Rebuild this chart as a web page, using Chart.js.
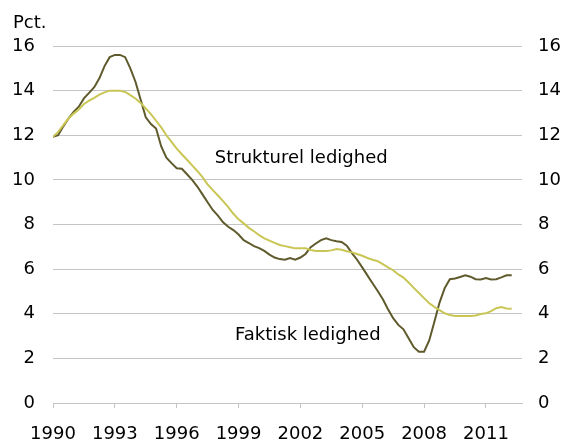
<!DOCTYPE html>
<html>
<head>
<meta charset="utf-8">
<script src="https://cdn.jsdelivr.net/npm/chart.js@4.4.1/dist/chart.umd.min.js"></script>
<style>
    html, body { margin: 0; padding: 0; background: #ffffff; }
    #wrap { width: 563px; height: 442px; position: relative; }
</style>
</head>
<body>
<div id="wrap"><canvas id="myChart"></canvas></div>
<script>
// quarterly series, first point 1990 Q1
const startYear = 1990;
const axisEndYear = 2012.75;
const yearTicks = [1990, 1993, 1996, 1999, 2002, 2005, 2008, 2011];
const valueTicks = [0, 2, 4, 6, 8, 10, 12, 14, 16];

const faktiskLedighed = [
    11.93, 12.0, 12.4, 12.75, 13.05, 13.28, 13.65, 13.9, 14.15, 14.55,
    15.1, 15.5, 15.6, 15.6, 15.5, 15.0, 14.4, 13.6, 12.8, 12.5,
    12.3, 11.5, 11.0, 10.75, 10.52, 10.5, 10.25, 10.0, 9.7, 9.35,
    9.0, 8.65, 8.4, 8.1, 7.9, 7.75, 7.55, 7.3, 7.17, 7.03,
    6.94, 6.82, 6.65, 6.52, 6.45, 6.42, 6.5, 6.42, 6.52, 6.68,
    6.98, 7.15, 7.3, 7.38, 7.3, 7.25, 7.22, 7.05, 6.72, 6.42,
    6.08, 5.72, 5.37, 5.02, 4.65, 4.2, 3.8, 3.5, 3.3, 2.9,
    2.5, 2.3, 2.3, 2.8, 3.64, 4.5, 5.15, 5.55, 5.58, 5.65,
    5.72, 5.66, 5.55, 5.54, 5.6, 5.54, 5.55, 5.63, 5.72, 5.72
];

const strukturelLedighed = [
    11.93, 12.15, 12.45, 12.75, 12.97, 13.15, 13.4, 13.55, 13.68, 13.82,
    13.92, 14.0, 14.0, 14.0, 13.94, 13.8, 13.65, 13.45, 13.2, 12.95,
    12.65, 12.35, 12.0, 11.7, 11.4, 11.15, 10.9, 10.65, 10.4, 10.12,
    9.8, 9.54, 9.3, 9.05, 8.78, 8.48, 8.23, 8.05, 7.85, 7.7,
    7.52, 7.38, 7.28, 7.18, 7.08, 7.03, 6.98, 6.93, 6.93, 6.93,
    6.86, 6.81, 6.81, 6.81, 6.84, 6.9, 6.87, 6.8, 6.75, 6.68,
    6.6, 6.5, 6.42, 6.36, 6.22, 6.08, 5.95, 5.76, 5.62, 5.4,
    5.16, 4.93, 4.7, 4.47, 4.31, 4.16, 4.02, 3.94, 3.9, 3.9,
    3.9, 3.9, 3.92, 3.99, 4.02, 4.12, 4.25, 4.3, 4.24, 4.22
];

const labelTexts = [
    { text: 'Strukturel ledighed', year: 1997.85, value: 10.97 },
    { text: 'Faktisk ledighed', year: 1998.83, value: 3.05 }
];

const StartFunc = () => {
    const jVarLocalFont = { family: 'DejaVu Sans', size: 18 };
    const gridColor = '#c4c4c4';

    const toPoints = arr => arr.map((v, i) => ({ x: startYear + i / 4, y: v }));

    const textPlugin = {
        id: 'texts',
        afterDraw(chart) {
            const { ctx, chartArea, scales } = chart;
            ctx.save();
            ctx.fillStyle = '#000000';
            ctx.font = '18px "DejaVu Sans"';
            ctx.textBaseline = 'middle';
            ctx.textAlign = 'left';
            ctx.fillText('Pct.', 13, chartArea.top - 23);
            labelTexts.forEach(item => {
                ctx.fillText(item.text, scales.x.getPixelForValue(item.year), scales.y.getPixelForValue(item.value));
            });
            ctx.restore();
        }
    };

    const ctx = document.getElementById('myChart');

    new Chart(ctx, {
        type: 'line',
        data: {
            datasets: [{
                label: 'Strukturel ledighed',
                data: toPoints(strukturelLedighed),
                borderColor: '#c9c655',
                borderWidth: 2,
                pointRadius: 0,
                tension: 0
            }, {
                label: 'Faktisk ledighed',
                data: toPoints(faktiskLedighed),
                borderColor: '#5f5a2c',
                borderWidth: 2,
                pointRadius: 0,
                tension: 0
            }]
        },
        options: {
            responsive: true,
            maintainAspectRatio: false,
            animation: false,
            layout: { padding: { top: 46, left: 0, right: 0, bottom: 0 } },
            plugins: {
                legend: { display: false },
                tooltip: { enabled: false }
            },
            scales: {
                x: {
                    type: 'linear',
                    min: startYear,
                    max: axisEndYear,
                    afterBuildTicks: scale => {
                        scale.ticks = yearTicks.map(v => ({ value: v }));
                    },
                    afterFit: scale => { scale.height = 39; },
                    ticks: {
                        font: jVarLocalFont,
                        color: '#000000',
                        padding: 16,
                        maxRotation: 0,
                        autoSkip: false,
                        callback: v => String(v)
                    },
                    grid: {
                        drawOnChartArea: false,
                        drawTicks: true,
                        tickLength: 5,
                        color: gridColor
                    },
                    border: { display: true, color: gridColor }
                },
                y: {
                    position: 'left',
                    min: 0,
                    max: 16,
                    afterBuildTicks: scale => {
                        scale.ticks = valueTicks.map(v => ({ value: v }));
                    },
                    afterFit: scale => { scale.width = 53; },
                    ticks: { font: jVarLocalFont, color: '#000000', padding: 18 },
                    grid: { color: gridColor, drawTicks: false },
                    border: { display: false }
                },
                y2: {
                    position: 'right',
                    min: 0,
                    max: 16,
                    afterBuildTicks: scale => {
                        scale.ticks = valueTicks.map(v => ({ value: v }));
                    },
                    afterFit: scale => { scale.width = 41; },
                    ticks: { font: jVarLocalFont, color: '#000000', padding: 16 },
                    grid: { drawOnChartArea: false, drawTicks: false },
                    border: { display: false }
                }
            }
        },
        plugins: [textPlugin]
    });
};

StartFunc();
</script>
</body>
</html>
